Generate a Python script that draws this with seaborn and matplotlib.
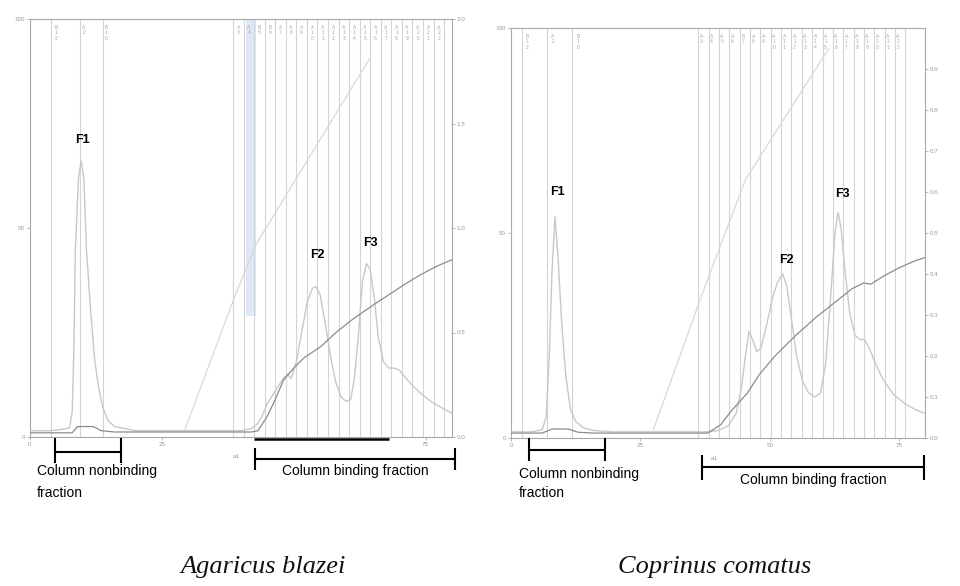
import matplotlib
matplotlib.use("Agg")
import matplotlib.pyplot as plt
import seaborn as sns
import pandas as pd

sns.set_theme(style="white")
plt.rcParams['font.family'] = ['Liberation Sans', 'DejaVu Sans']

# ---------------- data: Agaricus blazei (left) ----------------
ab_x = [0, 2, 4, 6, 7.5, 8.0, 8.3, 8.6, 9.2, 9.7, 10.2, 10.7, 11.5, 12.3, 13, 13.8, 14.8, 16, 18,
        20, 25, 30, 35, 40, 42, 43, 44, 45, 46, 47, 48, 48.8, 49.5, 50.5, 51.5, 52.5, 53.5, 54.2,
        55, 56, 57, 58, 59, 60, 60.8, 61.5, 62.3, 63, 63.8, 64.5, 65.3, 66, 67, 68, 69, 70, 71,
        72, 74, 76, 78, 80]
ab_abs = [1.5, 1.5, 1.5, 1.8, 2.2, 6, 20, 45, 62, 66, 62, 45, 30, 18, 12, 7, 4, 2.5, 2,
          1.5, 1.5, 1.5, 1.5, 1.5, 2, 3, 5, 8, 10, 12, 14, 15, 14, 18, 25, 32, 35.5, 36,
          34, 27, 19, 13, 9.5, 8.5, 9, 14, 25, 37, 41.5, 40, 33, 24, 18, 16.5, 16.5, 16, 14.5,
          13, 10.5, 8.5, 7, 5.7]
ab_cond_x = [0, 8, 9, 12, 13.5, 16, 42, 43.2, 45, 46.5, 48.1, 50, 52, 55.1, 58, 61, 65.2, 68, 71, 74, 77, 80]
ab_cond = [1, 1, 2.5, 2.5, 1.5, 1.2, 1.2, 1.5, 5, 9, 13.7, 16.5, 19, 21.6, 25, 28, 31.7, 34, 36.5, 38.8, 40.8, 42.4]
ab_grad_x = [29.2, 38.6, 42.8, 64.6]
ab_grad = [1.2, 32.9, 46, 91]
ab_frac_lines = [4.0, 9.5, 13.8, 38.5, 40.5, 42.5, 44.5, 46.5, 48.5, 50.5, 52.5, 54.5, 56.5, 58.5,
                 60.5, 62.5, 64.5, 66.5, 68.5, 70.5, 72.5, 74.5, 76.5, 78.5]
ab_frac_label_x = [4.9, 10.2, 14.5, 39.5, 41.5, 43.5, 45.5, 47.5, 49.5, 51.5, 53.5, 55.5, 57.5,
                   59.5, 61.5, 63.5, 65.5, 67.5, 69.5, 71.5, 73.5, 75.5, 77.5]
ab_frac_labels = ["B\n1\n2", "A\n2", "B\n1\n0", "A\n3", "A\n4", "B\n5", "B\n6", "A\n7", "A\n8", "A\n9",
                  "A\n1\n0", "A\n1\n1", "A\n1\n2", "A\n1\n3", "A\n1\n4", "A\n1\n5", "A\n1\n6",
                  "A\n1\n7", "A\n1\n8", "A\n1\n9", "A\n2\n0", "A\n2\n1", "A\n2\n2"]
ab_peaks = ["F1", "F2", "F3"]
ab_peak_x = [10.0, 54.5, 64.5]
ab_peak_y = [71, 43.5, 46.5]

# ---------------- data: Coprinus comatus (right) ----------------
cc_x = [0, 4, 6, 6.8, 7.4, 7.9, 8.5, 9.1, 9.8, 10.6, 11.5, 12.5, 14, 16, 20, 30, 38, 40, 42,
        43.5, 44.5, 45.3, 46, 46.7, 47.5, 48.3, 49.3, 50.5, 51.5, 52.5, 53.3, 54.2, 55.2, 56.3,
        57.5, 58.7, 59.8, 60.8, 61.8, 62.6, 63.2, 63.8, 64.6, 65.5, 66.5, 67.5, 68.3, 69.2,
        70.5, 72, 74, 76, 78, 80]
cc_abs = [1.5, 1.5, 2, 5, 20, 40, 54, 44, 28, 15, 7, 4, 2.5, 1.8, 1.5, 1.5, 1.5, 1.8, 3,
          6, 12, 20, 26, 24, 21, 22, 27, 34, 38, 40, 37, 29, 20, 14,
          11, 10, 11, 18, 35, 50, 55, 51, 40, 30, 25, 24, 24, 22,
          18, 14, 10.5, 8.5, 7, 6]
cc_cond_x = [0, 6, 8, 11, 13, 16, 38, 40.5, 42.5, 45.7, 48, 51, 55, 59, 63, 66, 68.2, 69.5, 72, 75, 78, 80]
cc_cond = [1.2, 1.2, 2.2, 2.2, 1.4, 1.2, 1.2, 3.2, 6.5, 11, 15.5, 20, 25, 29.5, 33.5, 36.5, 37.8, 37.5, 39.5, 41.5, 43.2, 44]
cc_grad_x = [27.5, 37.2, 45.3, 61.4]
cc_grad = [2, 36, 63, 95]
cc_frac_lines = [2.1, 7.0, 11.8, 36.2, 38.2, 40.2, 42.2, 44.2, 46.2, 48.2, 50.2, 52.2, 54.2, 56.2,
                 58.2, 60.2, 62.2, 64.2, 66.2, 68.2, 70.2, 72.2, 74.2, 76.2]
cc_frac_label_x = [3.1, 8.1, 13.0, 36.8, 38.8, 40.8, 42.8, 44.8, 46.8, 48.8, 50.8, 52.8, 54.8,
                   56.8, 58.8, 60.8, 62.8, 64.8, 66.8, 68.8, 70.8, 72.8, 74.8]
cc_frac_labels = ["B\n1\n2", "A\n2", "B\n1\n0", "A\n3", "A\n4", "A\n5", "A\n6", "B\n7", "A\n8", "A\n9",
                  "A\n1\n0", "A\n1\n1", "A\n1\n2", "A\n1\n3", "A\n1\n4", "A\n1\n5", "A\n1\n6",
                  "A\n1\n7", "A\n1\n8", "A\n1\n9", "A\n2\n0", "A\n2\n1", "A\n2\n2"]
cc_peaks = ["F1", "F2", "F3"]
cc_peak_x = [8.9, 53.2, 64.0]
cc_peak_y = [60, 43.5, 59.5]

left_yticks = [0, 50, 100]
ab_xticks = [0, 25, 75]
cc_xticks = [0, 25, 50, 75]
ab_rticks = [0.0, 0.5, 1.0, 1.5, 2.0]
cc_rticks = [0.0, 0.1, 0.2, 0.3, 0.4, 0.5, 0.6, 0.7, 0.8, 0.9]
captions = ["Agaricus blazei", "Coprinus comatus"]

# ---------------- figure ----------------
W, H = 960, 586
fig = plt.figure(figsize=(9.6, 5.86), dpi=100)
fig.patch.set_facecolor("white")

def px_axes(x0, y0, x1, y1):
    return fig.add_axes([x0 / W, 1 - y1 / H, (x1 - x0) / W, (y1 - y0) / H])

ax1 = px_axes(30, 19, 452, 437)
ax2 = px_axes(511, 28, 925, 438)

ABS_C = "#c8c8c8"
COND_C = "#8c8c8c"
GRAD_C = "#d8d8d8"
LINE_C = "#d4d4d4"
TICK_C = "#9a9a9a"

def draw_panel(ax, x, a, cx, c, gx, g, lines, lab_x, labs, peaks, pkx, pky,
               xticks, rticks, rmax):
    for lx in lines:
        ax.axvline(lx, color=LINE_C, lw=0.8, zorder=1)
    sns.lineplot(x=gx, y=g, ax=ax, color=GRAD_C, lw=0.9, zorder=2)
    sns.lineplot(x=x, y=a, ax=ax, color=ABS_C, lw=1.0, zorder=3)
    sns.lineplot(x=cx, y=c, ax=ax, color=COND_C, lw=0.9, zorder=4)
    for lx, t in zip(lab_x, labs):
        ax.text(lx, 98.6, t, fontsize=3.6, color="#a8a8a8", ha="center", va="top",
                linespacing=1.15, zorder=5)
    for t, px_, py_ in zip(peaks, pkx, pky):
        ax.text(px_, py_, t, fontsize=9, fontweight="bold", color="black",
                ha="center", va="center", zorder=6)
    ax.set_xlim(0, 80)
    ax.set_ylim(0, 100)
    ax.set_xticks(xticks)
    ax.set_xticklabels([str(v) for v in xticks])
    ax.set_yticks(left_yticks)
    ax.set_yticklabels([str(v) for v in left_yticks])
    ax.tick_params(axis="both", labelsize=4.5, colors=TICK_C, length=2, width=0.5,
                   direction="out", pad=1.5)
    ax.tick_params(axis="x", bottom=True)
    ax.tick_params(axis="y", left=True)
    ax.set_xlabel("")
    ax.set_ylabel("")
    for s in ax.spines.values():
        s.set_color("#a8a8a8")
        s.set_linewidth(0.8)
    tw = ax.twinx()
    tw.set_ylim(0, rmax)
    tw.set_yticks(rticks)
    tw.set_yticklabels(["%.1f" % v for v in rticks])
    tw.tick_params(axis="y", labelsize=4.5, colors=TICK_C, length=2, width=0.5, pad=1.5)
    tw.tick_params(axis="y", right=True)
    for s in tw.spines.values():
        s.set_visible(False)
    tw.grid(False)

draw_panel(ax1, ab_x, ab_abs, ab_cond_x, ab_cond, ab_grad_x, ab_grad, ab_frac_lines,
           ab_frac_label_x, ab_frac_labels, ab_peaks, ab_peak_x, ab_peak_y,
           ab_xticks, ab_rticks, 2.0)
draw_panel(ax2, cc_x, cc_abs, cc_cond_x, cc_cond, cc_grad_x, cc_grad, cc_frac_lines,
           cc_frac_label_x, cc_frac_labels, cc_peaks, cc_peak_x, cc_peak_y,
           cc_xticks, cc_rticks, 1.0)

# injection band and collection bar in left panel
ax1.axvspan(40.9, 42.8, ymin=0.29, ymax=1.0, color="#dbe6f5", alpha=0.9, zorder=0.5, lw=0)
ax1.plot([42.4, 68.0], [-0.4, -0.4], color="black", lw=1.8, clip_on=False, zorder=7,
         solid_capstyle="butt")

# ---------------- overlay: brackets, notes, captions ----------------
ov = fig.add_axes([0, 0, 1, 1], zorder=10)
ov.set_xlim(0, W)
ov.set_ylim(H, 0)
ov.axis("off")
ov.patch.set_alpha(0)

def bracket(x0, x1, y, t0, t1):
    ov.plot([x0, x1], [y, y], color="black", lw=1.5, solid_capstyle="butt")
    ov.plot([x0, x0], [t0, t1], color="black", lw=1.5, solid_capstyle="butt")
    ov.plot([x1, x1], [t0, t1], color="black", lw=1.5, solid_capstyle="butt")

bracket(55, 121, 452, 438, 463)
bracket(255, 455, 459, 448, 470)
bracket(529, 605, 450, 438, 461)
bracket(702, 924, 467, 455, 480)

txt_kw = dict(fontsize=10, color="black", va="center")
ov.text(37, 471, "Column nonbinding", ha="left", **txt_kw)
ov.text(37, 493, "fraction", ha="left", **txt_kw)
ov.text(355, 471, "Column binding fraction", ha="center", **txt_kw)
ov.text(519, 474, "Column nonbinding", ha="left", **txt_kw)
ov.text(519, 493, "fraction", ha="left", **txt_kw)
ov.text(813, 480, "Column binding fraction", ha="center", **txt_kw)

ov.text(236, 457, "a1", fontsize=4.5, color=TICK_C, ha="center", va="center")
ov.text(714, 458, "a1", fontsize=4.5, color=TICK_C, ha="center", va="center")

cap_kw = dict(fontsize=19, style="italic", family=["Liberation Serif", "DejaVu Serif"],
              color="#111111", ha="center", va="center")
ov.text(263, 567, captions[0], **cap_kw)
ov.text(715, 567, captions[1], **cap_kw)

fig.savefig("out.png", dpi=100, facecolor="white")
